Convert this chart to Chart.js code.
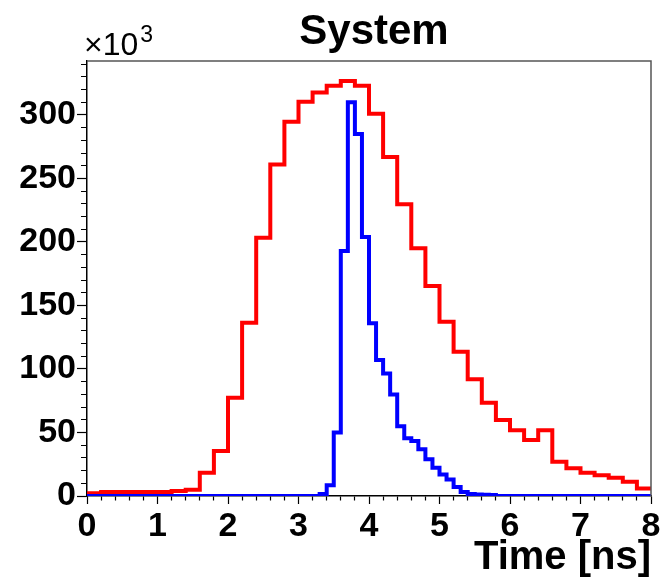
<!DOCTYPE html>
<html>
<head>
<meta charset="utf-8">
<title>System</title>
<script src="https://cdn.jsdelivr.net/npm/chart.js@4.4.1/dist/chart.umd.min.js"></script>
<style>
  html, body { margin: 0; padding: 0; background: #fff; }
  #chart { display: block; }
</style>
</head>
<body>
<canvas id="chart" width="663" height="578"></canvas>
<script>
// histogram contents in units of 10^3 entries
const xRange = [0, 8];
const redBinWidth = 0.2;
const redCounts = [
  2.1, 3.1, 3.1, 3.1, 3.1, 3.1, 3.9, 5.0, 18.4, 35.4,
  77.4, 136.5, 203.4, 261, 294.7, 310.5, 317.6, 323, 326.8, 323,
  301, 267, 229.7, 195, 165.4, 137.2, 113.6, 91.9, 73.5, 59.8,
  51.7, 44.1, 51.7, 27, 21.8, 18.4, 16.3, 14.4, 11.3, 6
];
const blueBinWidth = 0.1;
const blueCounts = [
  0, 0, 0, 0, 0, 0, 0, 0, 0, 0,
  0, 0, 0, 0, 0, 0, 0, 0, 0, 0,
  0, 0, 0, 0, 0, 0, 0, 0, 0, 0,
  0, 0, 0, 1.5, 8.4, 50, 193, 310, 285, 204,
  136, 107, 96.5, 80, 55, 45.4, 43.3, 36.8, 29, 22.3,
  17, 13, 7, 3.1, 1.5, 1.2, 1, 0.8, 0, 0,
  0, 0, 0, 0, 0, 0, 0, 0, 0, 0,
  0, 0, 0, 0, 0, 0, 0, 0, 0, 0
];
const yMax = 342.5;
const xTickStep = 0.2;
const yTickStep = 10;
const yLabelEvery = 50;
const titleText = "System";
const xTitle = "Time [ns]";
const yExponent = ["\u00d710", "3"];

// points at the lower bin edges, plus the closing edge
function histPoints(counts, width) {
  const pts = counts.map((c, i) => ({ x: +(i * width).toFixed(3), y: c }));
  pts.push({ x: xRange[1], y: counts[counts.length - 1] });
  return pts;
}

const isMultiple = (v, step) => Math.abs(v / step - Math.round(v / step)) < 1e-6;

const frameAndText = {
  id: "frameAndText",
  afterDraw(chart) {
    const { ctx, chartArea: a } = chart;
    ctx.save();
    ctx.strokeStyle = "#555";
    ctx.lineWidth = 1.5;
    ctx.beginPath();
    ctx.moveTo(a.left, a.top);
    ctx.lineTo(a.right, a.top);
    ctx.lineTo(a.right, a.bottom);
    ctx.stroke();

    ctx.fillStyle = "#000";
    ctx.textBaseline = "alphabetic";
    ctx.textAlign = "center";
    ctx.font = "bold 42px 'Liberation Sans', Arial, sans-serif";
    ctx.fillText(titleText, (a.left + a.right) / 2 + 5, 44);

    ctx.textAlign = "left";
    ctx.font = "32px 'Liberation Sans', Arial, sans-serif";
    ctx.fillText(yExponent[0], a.left - 3, 55);
    const w = ctx.measureText(yExponent[0]).width;
    ctx.font = "23px 'Liberation Sans', Arial, sans-serif";
    ctx.fillText(yExponent[1], a.left - 1 + w, 42);
    ctx.restore();
  }
};

const tickFont = { family: "'Liberation Sans', Arial, sans-serif", size: 34, weight: "bold" };

new Chart(document.getElementById("chart"), {
  type: "line",
  data: {
    datasets: [
      {
        label: "red",
        data: histPoints(redCounts, redBinWidth),
        borderColor: "#ff0000",
        borderWidth: 4,
        stepped: true,
        pointRadius: 0,
        fill: false,
        order: 1
      },
      {
        label: "blue",
        data: histPoints(blueCounts, blueBinWidth),
        borderColor: "#0000ff",
        borderWidth: 4,
        stepped: true,
        pointRadius: 0,
        fill: false,
        order: 0
      }
    ]
  },
  options: {
    responsive: false,
    animation: false,
    devicePixelRatio: 1,
    layout: { padding: { left: 0, right: 12, top: 61, bottom: 0 } },
    plugins: {
      legend: { display: false },
      tooltip: { enabled: false },
      title: { display: false }
    },
    scales: {
      x: {
        type: "linear",
        min: xRange[0],
        max: xRange[1],
        afterFit: (s) => { s.height = 82; },
        ticks: {
          stepSize: xTickStep,
          autoSkip: false,
          maxRotation: 0,
          padding: 2,
          color: "#000",
          font: tickFont,
          callback: (v) => isMultiple(v, 1) ? String(Math.round(v)) : ""
        },
        grid: {
          drawOnChartArea: false,
          tickLength: 8,
          tickColor: "#000",
          tickWidth: 1.2,
          tickBorderDash: (c) => (c.tick && isMultiple(c.tick.value, 1)) ? [] : [4, 100]
        },
        border: { display: true, color: "#000", width: 1.5 },
        title: {
          display: true,
          text: xTitle,
          align: "end",
          color: "#000",
          font: { family: "'Liberation Sans', Arial, sans-serif", size: 40, weight: "bold", lineHeight: 1 },
          padding: { top: 0, bottom: 0 }
        }
      },
      y: {
        type: "linear",
        min: 0,
        max: yMax,
        afterFit: (s) => { s.width = 87; },
        ticks: {
          stepSize: yTickStep,
          includeBounds: false,
          autoSkip: false,
          padding: 1,
          color: "#000",
          font: tickFont,
          callback: (v) => isMultiple(v, yLabelEvery) ? String(Math.round(v)) : ""
        },
        grid: {
          drawOnChartArea: false,
          tickLength: 10,
          tickColor: "#000",
          tickWidth: 1.2,
          tickBorderDash: (c) => (c.tick && isMultiple(c.tick.value, yLabelEvery)) ? [] : [0, 4, 100]
        },
        border: { display: true, color: "#000", width: 1.5 }
      }
    }
  },
  plugins: [frameAndText]
});
</script>
</body>
</html>
